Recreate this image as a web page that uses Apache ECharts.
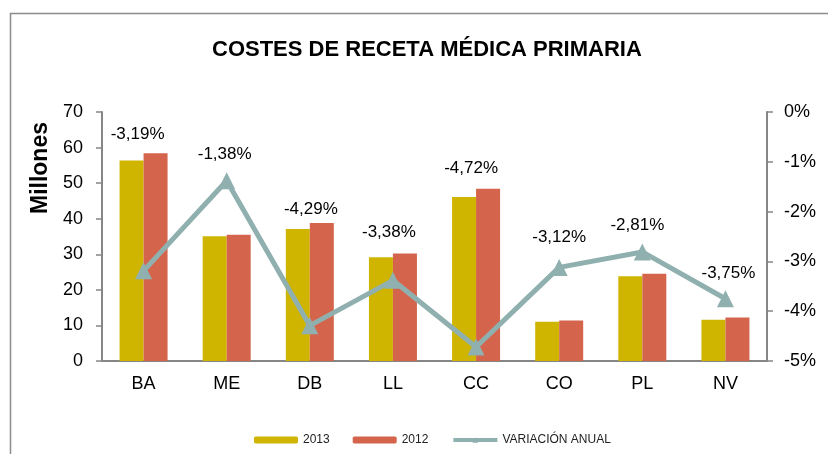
<!DOCTYPE html>
<html>
<head>
<meta charset="utf-8">
<script src="https://cdn.jsdelivr.net/npm/echarts@6/dist/echarts.min.js"></script>
<style>
  html, body { margin: 0; padding: 0; background: #fff; }
  #chart { width: 828px; height: 454px; }
</style>
</head>
<body>
<div id="chart"></div>
<script>
  // datos del gráfico
  const categories = ['BA', 'ME', 'DB', 'LL', 'CC', 'CO', 'PL', 'NV'];
  const costes2013 = [56.4, 35.1, 37.1, 29.2, 46.1, 11.0, 23.8, 11.6];
  const costes2012 = [58.4, 35.5, 38.8, 30.2, 48.4, 11.4, 24.5, 12.2];
  const variacion = [-3.19, -1.38, -4.29, -3.38, -4.72, -3.12, -2.81, -3.75];

  // desplazamiento de las etiquetas (colocadas a mano en el original)
  const labelShift = [[-6, -137], [-2, -26], [1, -116], [-4, -48], [-5, -179], [0, -30], [-5, -27], [3, -25]];

  const font = "'Liberation Sans', Arial, sans-serif";
  const axisGray = '#868686';
  const lineColor = '#8FB0AE';

  const myChart = echarts.init(document.getElementById('chart'));

  myChart.setOption({
    animation: false,
    textStyle: { fontFamily: font },
    title: {
      text: 'COSTES DE RECETA MÉDICA PRIMARIA',
      left: 207,
      top: 34,
      textStyle: { fontSize: 22, fontWeight: 'bold', color: '#000', fontFamily: font }
    },
    graphic: [
      {
        type: 'rect',
        shape: { x: 10.5, y: 13.5, width: 900, height: 600 },
        style: { fill: 'none', stroke: '#8c8c8c', lineWidth: 1.5 },
        silent: true
      },
      {
        type: 'text',
        x: 41,
        y: 168,
        rotation: Math.PI / 2,
        style: {
          text: 'Millones',
          font: 'bold 23px ' + font,
          fill: '#000',
          align: 'center',
          verticalAlign: 'middle'
        }
      }
    ],
    legend: {
      left: 249,
      top: 429,
      itemWidth: 44,
      itemHeight: 7,
      itemGap: 23,
      textStyle: { fontSize: 12, color: '#222', fontFamily: font },
      data: [
        '2013',
        '2012',
        { name: 'VARIACIÓN ANUAL', lineStyle: { width: 4, color: lineColor }, itemStyle: { color: lineColor } }
      ]
    },
    grid: { left: 102, right: 61, top: 112, bottom: 93 },
    xAxis: {
      type: 'category',
      data: categories,
      axisLine: { lineStyle: { color: axisGray, width: 2 } },
      axisTick: { length: 6, lineStyle: { color: axisGray, width: 1.5 } },
      axisLabel: { fontSize: 18, color: '#000', margin: 14 }
    },
    yAxis: [
      {
        type: 'value',
        min: 0,
        max: 70,
        interval: 10,
        splitLine: { show: false },
        axisLine: { show: true, lineStyle: { color: axisGray, width: 2 } },
        axisTick: { show: true, length: 6, lineStyle: { color: axisGray, width: 1.5 } },
        axisLabel: { fontSize: 18, color: '#000', margin: 19 }
      },
      {
        type: 'value',
        min: -5,
        max: 0,
        interval: 1,
        position: 'right',
        splitLine: { show: false },
        axisLine: { show: true, lineStyle: { color: axisGray, width: 2 } },
        axisTick: { show: true, length: 6, lineStyle: { color: axisGray, width: 1.5 } },
        axisLabel: { fontSize: 18, color: '#000', margin: 17, formatter: v => v + '%' }
      }
    ],
    series: [
      {
        name: '2013',
        type: 'bar',
        barWidth: 24,
        barGap: '0%',
        data: costes2013,
        itemStyle: { color: '#CFB400' }
      },
      {
        name: '2012',
        type: 'bar',
        barWidth: 24,
        data: costes2012,
        itemStyle: { color: '#D4654C' }
      },
      {
        name: 'VARIACIÓN ANUAL',
        type: 'line',
        yAxisIndex: 1,
        symbol: 'triangle',
        symbolSize: 17,
        lineStyle: { color: lineColor, width: 5 },
        itemStyle: { color: lineColor },
        data: variacion.map((v, i) => ({
          value: v,
          label: {
            show: true,
            position: 'inside',
            offset: labelShift[i],
            fontSize: 17,
            color: '#000',
            formatter: p => p.value.toFixed(2).replace('.', ',') + '%'
          }
        })),
        z: 5
      }
    ]
  });
</script>
</body>
</html>
